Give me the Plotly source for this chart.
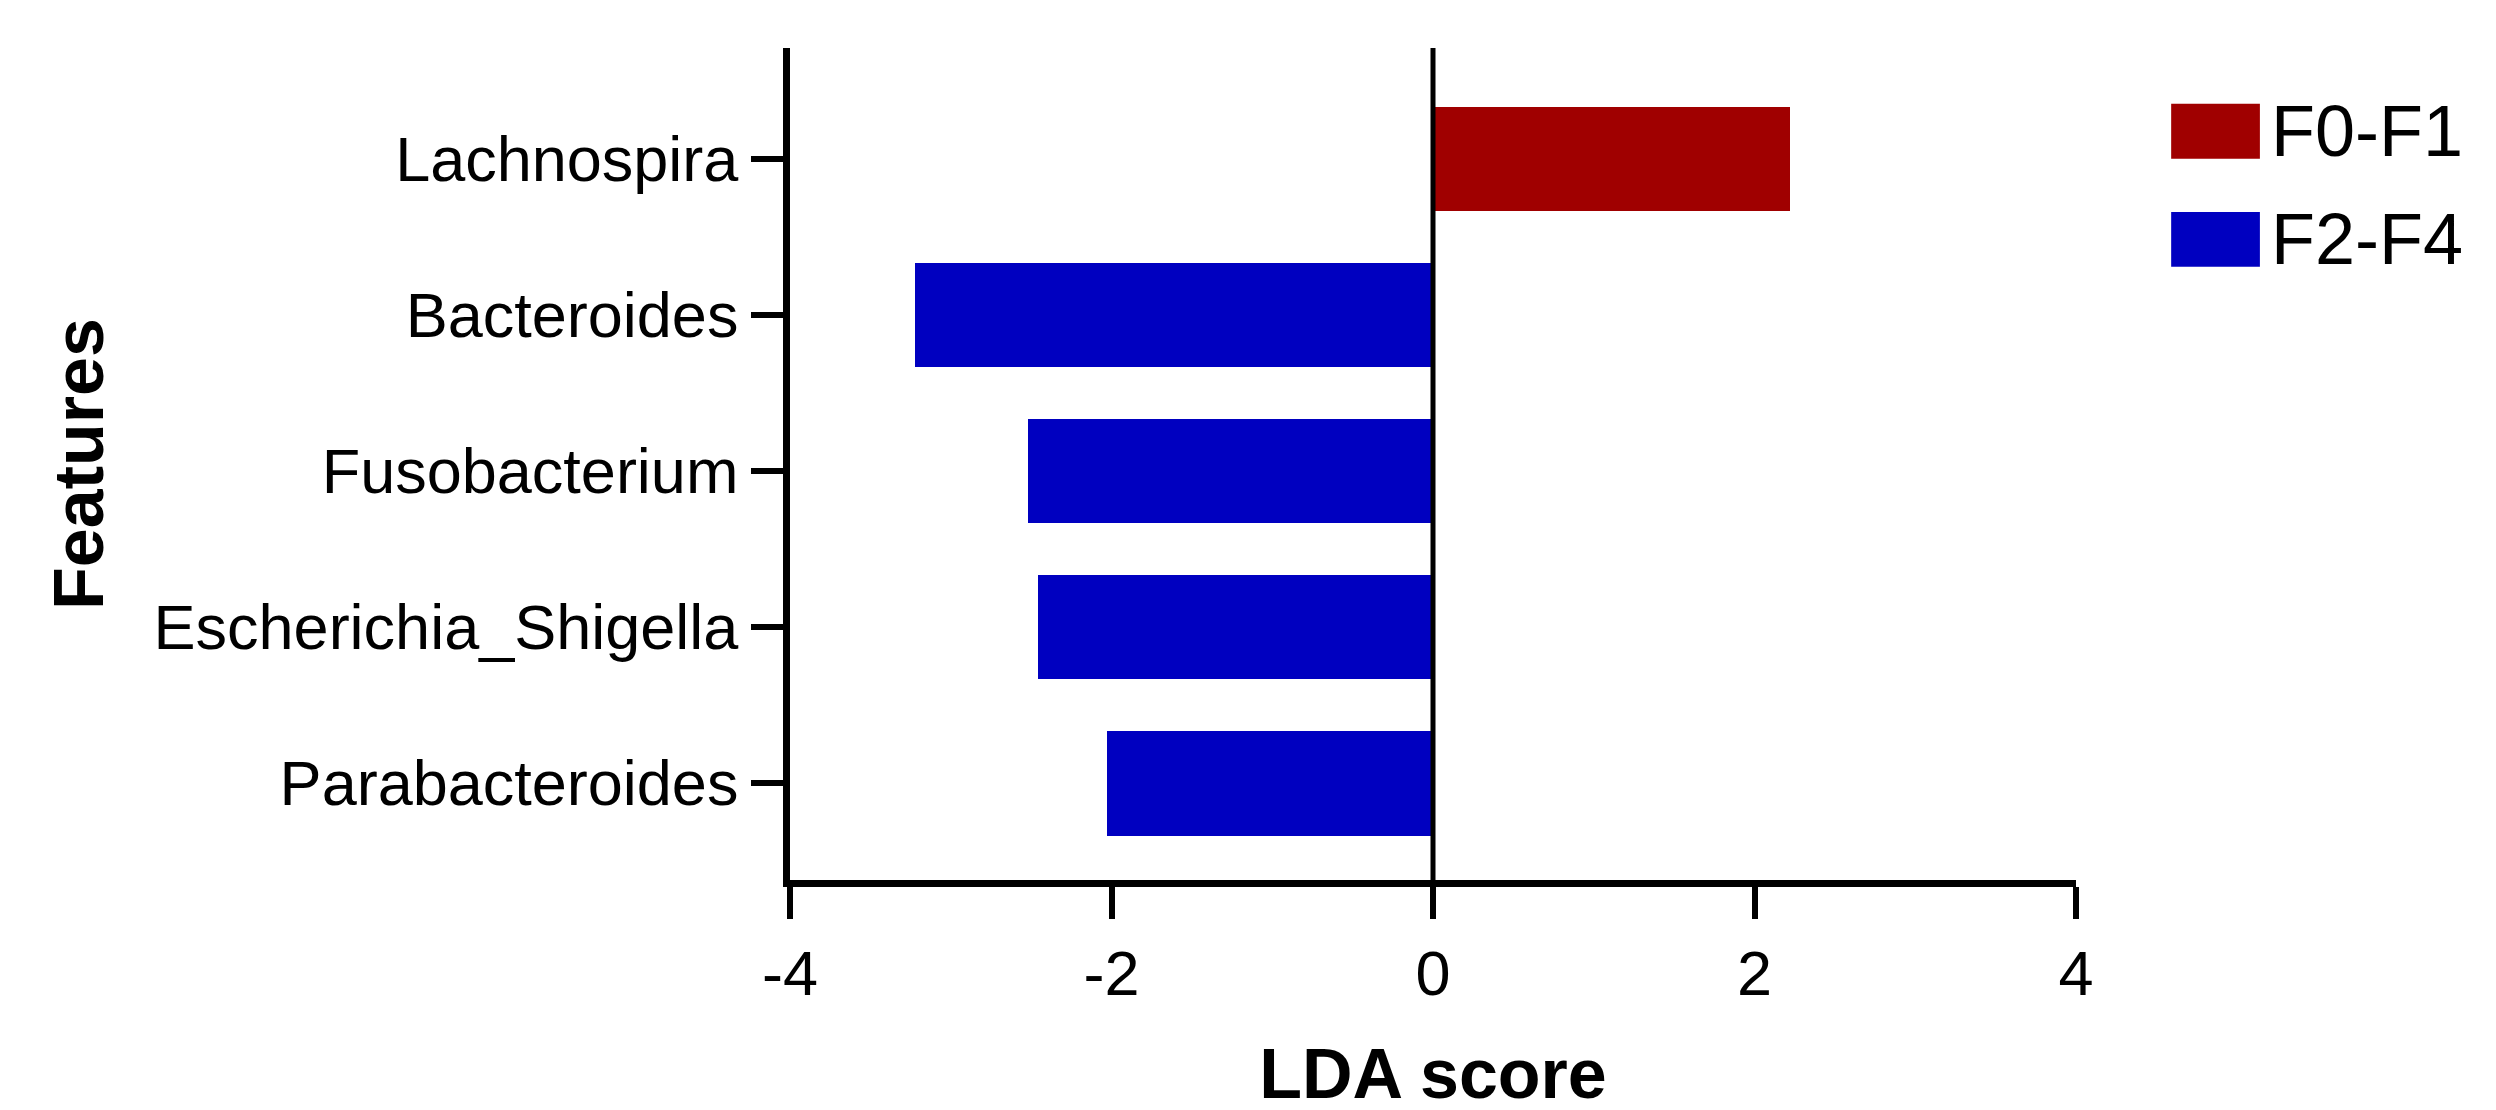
import plotly.graph_objects as go

features = ["Lachnospira", "Bacteroides", "Fusobacterium", "Escherichia_Shigella", "Parabacteroides"]
scores = [2.22, -3.22, -2.52, -2.46, -2.03]
groups = ["F0-F1", "F2-F4", "F2-F4", "F2-F4", "F2-F4"]
group_names = ["F0-F1", "F2-F4"]
group_colors = {"F0-F1": "#A00000", "F2-F4": "#0000C0"}
xticks = [-4, -2, 0, 2, 4]
xticklabels = ["-4", "-2", "0", "2", "4"]

pos = list(range(len(features)))
fig = go.Figure()
for g in group_names:
    idx = [i for i in pos if groups[i] == g]
    fig.add_trace(go.Bar(x=[scores[i] for i in idx], y=idx, orientation="h",
                         width=0.67, marker=dict(color=group_colors[g], line_width=0),
                         name=g, showlegend=False))

fig.add_shape(type="line", x0=0, x1=0, y0=0, y1=1, xref="x", yref="paper",
              line=dict(color="black", width=5))

# manual legend
legend_y = [0.90, 0.77]
for k, g in enumerate(group_names):
    y0 = legend_y[k]
    fig.add_shape(type="rect", xref="paper", yref="paper", x0=1.074, x1=1.143,
                  y0=y0 - 0.033, y1=y0 + 0.033, fillcolor=group_colors[g], line_width=0)
    fig.add_annotation(xref="paper", yref="paper", x=1.15, y=y0, text=g, showarrow=False,
                       xanchor="left", yanchor="middle",
                       font=dict(family="Liberation Sans, Arial", size=72, color="black"))

fig.update_layout(
    width=2496, height=1110, plot_bgcolor="white", paper_bgcolor="white",
    margin=dict(l=782, r=428, t=40, b=238),
    bargap=0,
    font=dict(family="Liberation Sans, Arial", color="black"),
    xaxis=dict(range=[-4, 4], tickvals=xticks, ticktext=xticklabels, ticks="outside", ticklen=32,
               tickwidth=6, tickcolor="black",
               showline=True, linewidth=7, linecolor="black", showgrid=False, zeroline=False,
               tickfont=dict(size=63), title=dict(text="<b>LDA score</b>", font=dict(size=70), standoff=45)),
    yaxis=dict(range=[4.62, -0.71], tickvals=pos, ticktext=features, ticks="outside", ticklen=32,
               tickwidth=6, tickcolor="black", showline=True, linewidth=7, linecolor="black", showgrid=False,
               zeroline=False, tickfont=dict(size=63),
               title=dict(text="<b>Features</b>", font=dict(size=70), standoff=30)),
)
fig.write_html("out.html")
